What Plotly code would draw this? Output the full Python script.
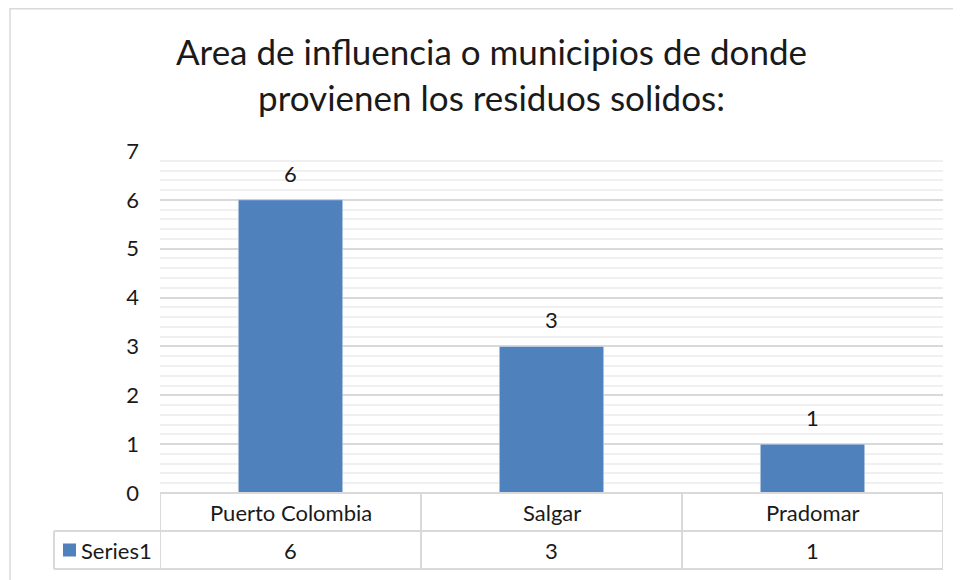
import plotly.graph_objects as go

# Datos
categorias = ["Puerto Colombia", "Salgar", "Pradomar"]
valores = [6, 3, 1]
serie = "Series1"
titulo = "Area de influencia o municipios de donde<br>provienen los residuos solidos:"

azul = "#4f81bd"
fuente = "Lato"
gris = "#d9d9d9"
negro = "#1a1a1a"

# la pagina deja 8px de margen, se compensa
W, Hf = 953, 572
ml, mr, mt, mb = 152, 18, 143, 87
pw = W - ml - mr
ph = Hf - mt - mb


def px(x):
    return (x - 8 - ml) / pw


def py(y):
    return (Hf - mb - (y - 8)) / ph


fig = go.Figure()
fig.add_trace(go.Bar(x=list(range(len(categorias))), y=valores, marker_color=azul,
                     hoverinfo="x+y", name=serie))

fila1 = py(531)
fila2 = py(569)
x_izq = px(54)
shapes = []
# borde exterior
shapes.append(dict(type="rect", xref="paper", yref="paper", x0=px(10), x1=1.2,
                   y0=-0.4, y1=(Hf - mb - 0.75) / ph, line=dict(color=gris, width=1.5)))
# lineas horizontales de la tabla
for yy in (fila1, fila2):
    shapes.append(dict(type="line", xref="paper", yref="paper", x0=x_izq, x1=1, y0=yy, y1=yy,
                       line=dict(color=gris, width=2)))
shapes.append(dict(type="line", xref="paper", yref="paper", x0=x_izq, x1=x_izq, y0=fila1, y1=fila2,
                   line=dict(color=gris, width=2)))
shapes.append(dict(type="line", xref="paper", yref="paper", x0=0, x1=1, y0=0, y1=0,
                   line=dict(color=gris, width=2)))
for i in range(len(categorias) + 1):
    shapes.append(dict(type="line", xref="x", yref="paper", x0=i - 0.5, x1=i - 0.5, y0=0, y1=fila2,
                       line=dict(color=gris, width=2)))
# cuadro de la leyenda
ym = (fila1 + fila2) / 2
shapes.append(dict(type="rect", xref="paper", yref="paper", x0=px(63), x1=px(76),
                   y0=ym - 6.5 / ph, y1=ym + 6.5 / ph, fillcolor=azul, line=dict(width=0)))

f = dict(size=22, color=negro, family=fuente)
annotations = []
for i, (c, v) in enumerate(zip(categorias, valores)):
    annotations.append(dict(x=i, y=fila1 / 2, xref="x", yref="paper", text=c, showarrow=False,
                            xanchor="center", yanchor="middle", font=f))
    annotations.append(dict(x=i, y=ym, xref="x", yref="paper", text=str(v), showarrow=False,
                            xanchor="center", yanchor="middle", font=f))
    # etiqueta de datos
    annotations.append(dict(x=i, y=v, xref="x", yref="y", text=str(v), showarrow=False,
                            xanchor="center", yanchor="bottom", yshift=11, font=f))
annotations.append(dict(x=px(79), y=ym, xref="paper", yref="paper", text=serie, showarrow=False,
                        xanchor="left", yanchor="middle", font=f))

fig.update_layout(
    width=W, height=Hf,
    margin=dict(l=ml, r=mr, t=mt, b=mb),
    paper_bgcolor="white", plot_bgcolor="white",
    font=dict(family=fuente, size=22, color=negro),
    title=dict(text=titulo, x=(491.5 - 8) / W, xanchor="center", y=1 - 57 / Hf, yanchor="middle",
               font=dict(size=35, family=fuente, color=negro)),
    bargap=0.6, showlegend=False,
    shapes=shapes, annotations=annotations,
    xaxis=dict(range=[-0.5, 2.5], showticklabels=False, showgrid=False, zeroline=False,
               showline=False, fixedrange=True),
    yaxis=dict(range=[0, 7], dtick=1, showgrid=True, gridcolor=gris, gridwidth=1.5,
               zeroline=False, showline=False, ticklabelstandoff=20,
               tickfont=dict(size=22),
               minor=dict(dtick=0.2, showgrid=True, gridcolor="#f0f0f0", gridwidth=1.5)),
)

fig.write_html("out.html")
